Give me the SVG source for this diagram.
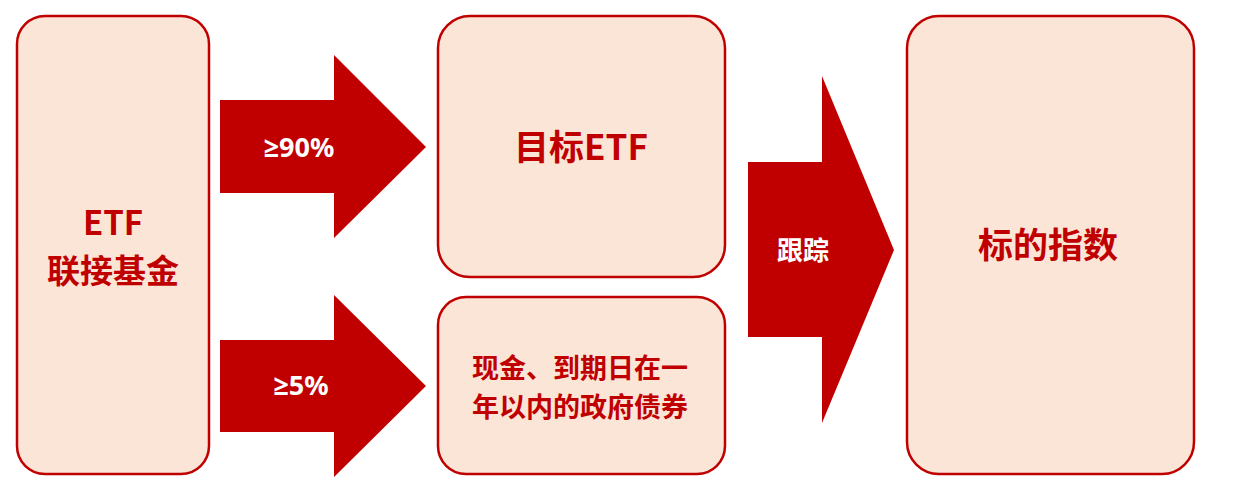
<svg xmlns="http://www.w3.org/2000/svg" width="1238" height="493" viewBox="0 0 1238 493">
<style>
.box{fill:#FBE5D6;stroke:#C00000;stroke-width:2.5}
.arrow{fill:#C00000}
.t{font-family:"Noto Sans CJK SC","Microsoft YaHei",sans-serif;font-weight:bold;text-anchor:middle}
.p{font-family:"Noto Sans","Open Sans",sans-serif;font-weight:bold;text-anchor:middle}
.red{fill:#C00000}
.wh{fill:#FFFFFF}
</style>
<rect width="1238" height="493" fill="#FFFFFF"/>
<g id="connectors">
<polygon class="arrow" points="220,100 334,100 334,55 426,147 334,238 334,193 220,193"/>
<polygon class="arrow" points="220,340 334,340 334,295 426,386 334,477 334,432 220,432"/>
<polygon class="arrow" points="748,162 822,162 822,76 894,250 822,423 822,337 748,337"/>
<text class="p wh" x="299" y="157" font-size="27">≥90%</text>
<text class="p wh" x="301" y="395" font-size="27">≥5%</text>
<text class="t wh" x="803" y="260" font-size="26">跟踪</text>
</g>
<g id="node-etf-feeder">
<rect class="box" x="17" y="16" width="192" height="458" rx="28"/>
<text class="t red" font-size="33"><tspan x="113" y="235">ETF</tspan><tspan x="113" y="283">联接基金</tspan></text>
</g>
<g id="node-target-etf">
<rect class="box" x="438" y="16" width="287" height="261" rx="32"/>
<text class="t red" x="581" y="160" font-size="35">目标ETF</text>
</g>
<g id="node-cash">
<rect class="box" x="438" y="297" width="287" height="177" rx="28"/>
<text class="t red" font-size="27"><tspan x="580" y="378">现金、到期日在一</tspan><tspan x="580" y="417">年以内的政府债券</tspan></text>
</g>
<g id="node-index">
<rect class="box" x="907" y="16" width="287" height="458" rx="32"/>
<text class="t red" x="1048" y="258" font-size="35">标的指数</text>
</g>
</svg>
